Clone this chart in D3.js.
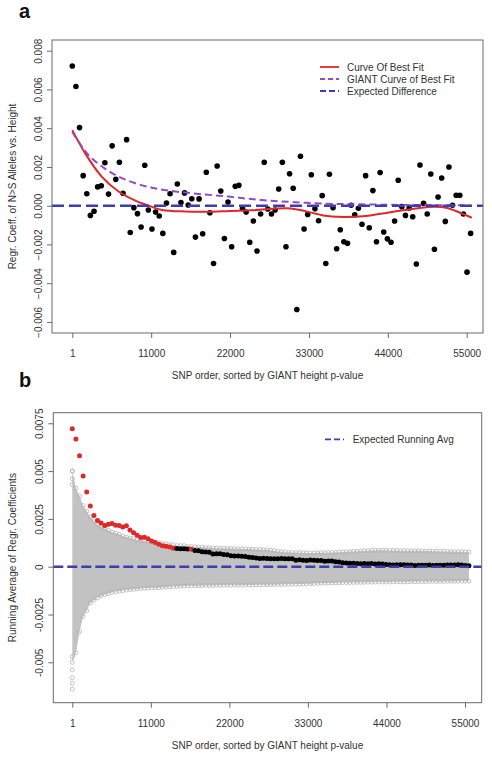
<!DOCTYPE html>
<html><head><meta charset="utf-8">
<script src="https://cdn.jsdelivr.net/npm/d3@7"></script>
<style>
body{margin:0;background:#fff}
svg{display:block}
text{font-family:"Liberation Sans",Arial,Helvetica,sans-serif}
</style>
</head><body>
<svg id="c" width="492" height="759"></svg>
<script>
// ---------- DATA ----------
// Panel a: regression coefficient of N>S alleles vs height, one value per SNP bin (sorted by GIANT p-value)
const coefA = [
 0.00721, 0.00615, 0.00403, 0.00155, 0.00062, -0.0005, -0.00029, 0.00097, 0.00103, 0.00222,
 0.0006, 0.00309, 0.00136, 0.00224, 0.00064, 0.00341, -0.00138, -0.0001, -0.00041, -0.0011,
 0.00209, -0.00022, -0.0012, -0.00033, -0.00053, -0.00143, 0.00014, 0.00062, -0.00241, 0.00112,
 0.00016, 0.00066, 0.00004, 0.00036, -0.00162, 0.00035, -0.00145, 0.00173, -0.00036, -0.00298,
 0.00205, 0.00076, -0.00169, 0.00019, -0.00212, 0.001, 0.00105, -0.00014, -0.00033, -0.00189,
 -0.00079, -0.00234, -0.00043, 0.00224, -0.00017, -0.00043, -0.00022, 0.00086, 0.00224, -0.00212,
 0.00165, 0.0009, -0.00536, 0.00255, -0.0012, -0.00045, 0.0016, -0.00016, -0.00078, 0.00052,
 -0.00298, 0.00162, -0.0001, -0.00222, -0.00124, -0.00186, -0.00194, 0.00002, -0.00047, -0.00013,
 -0.00096, 0.00155, -0.00114, 0.00078, -0.00186, 0.00171, -0.00136, -0.00171, -0.00189, -0.00079,
 0.00131, -0.00005, -0.0005, -0.00012, -0.00057, -0.00301, 0.0021, 0.00012, -0.00043, 0.00164,
 -0.00225, 0.00045, 0.00143, -0.00081, 0.002, 0.00002, 0.00054, 0.00054, -0.00043, -0.00343,
 -0.00143
];
const snpStep = 505;   // SNP-order spacing between successive bins
const snpOrder = coefA.map((_, i) => 1 + i * snpStep);

// Curve of best fit (red) and GIANT curve of best fit (purple)
const fitSnp = [1, 1800, 4100, 6500, 8800, 10650, 12500, 15750, 19000, 22000, 25000, 28000, 30500, 32500, 35000, 37700, 40500, 43000, 45700, 48000, 50500, 52300, 54000, 55700];
const fitVal = [0.0039, 0.0027, 0.0015, 0.00072, 0.00026, 0.0, -0.00022, -0.0003, -0.00031, -0.00027, -0.00024, -0.00016, -0.00014, -0.00028, -0.0005, -0.00058, -0.00055, -0.00042, -0.00026, -0.00014, -0.00006, -0.00012, -0.00035, -0.00062];
const giantSnp = [1, 2290, 4600, 6470, 8780, 11110, 13440, 16690, 21750, 26400, 31050, 35700, 40000, 46000, 55500];
const giantVal = [0.0038, 0.0026, 0.0019, 0.0015, 0.00116, 0.00093, 0.00078, 0.00064, 0.00047, 0.00029, 0.00018, 0.0001, 0.00007, 0.00004, 0.00002];

// Panel b: running average of regression coefficients
const runAvg = [
 0.00721, 0.00668, 0.0058, 0.00474, 0.00391, 0.00318, 0.00268, 0.00241, 0.00229, 0.00216,
 0.00222, 0.00226, 0.00217, 0.00215, 0.00208, 0.00214, 0.00192, 0.00178, 0.00165, 0.00153,
 0.00154, 0.00146, 0.00134, 0.00127, 0.00118, 0.0011, 0.00107, 0.00103, 0.00096, 0.00095,
 0.00094, 0.00094, 0.00092, 0.00091, 0.00085, 0.00084, 0.00078, 0.00077, 0.00075, 0.00067,
 0.00068, 0.00068, 0.00064, 0.00063, 0.00057, 0.00056, 0.00056, 0.00055, 0.00054, 0.0005,
 0.00048, 0.00045, 0.00043, 0.00044, 0.00043, 0.00042, 0.00041, 0.00042, 0.00043, 0.00041,
 0.00042, 0.00042, 0.00034, 0.00037, 0.00034, 0.00033, 0.00035, 0.00034, 0.00033, 0.00033,
 0.00028, 0.0003, 0.0003, 0.00026, 0.00024, 0.00021, 0.00019, 0.00018, 0.00018, 0.00017,
 0.00016, 0.00017, 0.00016, 0.00017, 0.00014, 0.00016, 0.00014, 0.00012, 0.0001, 0.00009,
 0.0001, 0.0001, 0.0001, 0.00009, 0.00009, 0.00006, 0.00008, 0.00008, 0.00007, 0.00009,
 0.00006, 0.00007, 0.00008, 0.00007, 0.00009, 0.00009, 0.00009, 0.0001, 0.00009, 0.00006,
 0.00005
];
// bins (1-based) whose running average is flagged (red)
const flaggedBins = [1,2,3,4,5,6,7,8,9,10,11,12,13,14,15,16,17,18,19,20,21,22,23,24,25,26,27,28,29,34];

// Permutation envelope (grey open circles): upper and lower edges per bin
const envUpper = [
 0.0050, 0.0041, 0.0037, 0.0032, 0.0029, 0.0026, 0.0024, 0.0022, 0.0021, 0.0020,
 0.0019, 0.0018, 0.00175, 0.0017, 0.0016, 0.00155, 0.0015, 0.00145, 0.0014, 0.0014,
 0.00135, 0.0013, 0.0013, 0.00125, 0.00125, 0.0012, 0.0012, 0.00115, 0.00115, 0.0011,
 0.0011, 0.0011, 0.00105, 0.00105, 0.00104, 0.00103, 0.00102, 0.001, 0.001, 0.00098,
 0.00097, 0.00096, 0.00096, 0.00095, 0.00095, 0.00094, 0.00094, 0.00093, 0.00093, 0.00092,
 0.00091, 0.0009, 0.0009, 0.00089, 0.00088, 0.00086, 0.00084, 0.0008, 0.00078, 0.00076,
 0.00075, 0.00074, 0.00074, 0.00073, 0.00073, 0.00072, 0.00072, 0.00072, 0.00073, 0.00073,
 0.00073, 0.00074, 0.00074, 0.00075, 0.00076, 0.00077, 0.00078, 0.00079, 0.0008, 0.00081,
 0.00082, 0.00083, 0.00084, 0.00085, 0.00086, 0.00086, 0.00086, 0.00086, 0.00085, 0.00085,
 0.00085, 0.00084, 0.00084, 0.00084, 0.00083, 0.00083, 0.00083, 0.00082, 0.00082, 0.00082,
 0.00081, 0.00081, 0.0008, 0.0008, 0.0008, 0.00079, 0.00079, 0.00078, 0.00078, 0.00077,
 0.00077
];
const envLower = [
 -0.0050, -0.0045, -0.0034, -0.0026, -0.0023, -0.0019, -0.00175, -0.00163, -0.00153, -0.00146,
 -0.0014, -0.00135, -0.0013, -0.00128, -0.00125, -0.00122, -0.0012, -0.00118, -0.00116, -0.00114,
 -0.00113, -0.00112, -0.0011, -0.0011, -0.0011, -0.00108, -0.00107, -0.00105, -0.00104, -0.00103,
 -0.00102, -0.00101, -0.001, -0.001, -0.001, -0.00099, -0.00099, -0.00098, -0.00098, -0.00098,
 -0.00097, -0.00097, -0.00097, -0.00096, -0.00096, -0.00096, -0.00096, -0.00096, -0.00096, -0.00096,
 -0.00096, -0.00095, -0.00095, -0.00095, -0.00094, -0.00094, -0.00094, -0.00093, -0.00093, -0.00092,
 -0.00092, -0.00091, -0.00091, -0.0009, -0.0009, -0.00089, -0.00089, -0.00088, -0.00087, -0.00086,
 -0.00086, -0.00085, -0.00085, -0.00084, -0.00084, -0.00083, -0.00083, -0.00083, -0.00082, -0.00082,
 -0.00082, -0.00081, -0.00081, -0.00081, -0.0008, -0.0008, -0.0008, -0.0008, -0.0008, -0.00079,
 -0.00079, -0.00079, -0.00079, -0.00079, -0.00078, -0.00078, -0.00078, -0.00078, -0.00078, -0.00077,
 -0.00077, -0.00077, -0.00077, -0.00077, -0.00076, -0.00076, -0.00076, -0.00076, -0.00075, -0.00075,
 -0.00075
];
const envFirstBinExtras = [0.0050, 0.0046, 0.0043, -0.0047, -0.0054, -0.0058, -0.0061, -0.0064];

const xTicks = [1, 11000, 22000, 33000, 44000, 55000];
const yTicksA = [-0.006, -0.004, -0.002, 0, 0.002, 0.004, 0.006, 0.008];
const yTicksB = [-0.005, -0.0025, 0, 0.0025, 0.005, 0.0075];
const yTickLabelsB = ["-0.005", "-0.0025", "0", "0.0025", "0.005", "0.0075"];
const legendA = ["Curve Of Best Fit", "GIANT Curve of Best Fit", "Expected Difference"];
const legendB = ["Expected Running Avg"];
const xTitle = "SNP order, sorted by GIANT height p-value";
const yTitleA = "Regr. Coeff. of N>S Alleles vs. Height";
const yTitleB = "Running Average of Regr. Coefficients";

// ---------- STYLE ----------
const RED = "#e02828", PURPLE = "#9448c4", BLUE = "#3c3cb4";
const AX = "#6a6a6a", TXT = "#333";

const svg = d3.select("#c");
svg.append("rect").attr("width", 492).attr("height", 759).attr("fill", "#fff");

function axes(box, x, y, yVals, yFmt) {
  const gx = svg.append("g").attr("transform", `translate(0,${box.b})`)
    .call(d3.axisBottom(x).tickValues(xTicks).tickFormat(d3.format("d")).tickSize(5).tickSizeOuter(0).tickPadding(12));
  gx.select(".domain").remove();
  const gy = svg.append("g").attr("transform", `translate(${box.l},0)`)
    .call(d3.axisLeft(y).tickValues(yVals).tickFormat(yFmt).tickSize(5).tickSizeOuter(0));
  gy.select(".domain").remove();
  gy.selectAll("text").attr("transform", "rotate(-90)").attr("x", 0).attr("y", -10.5).attr("dy", 0).attr("text-anchor", "middle");
  [gx, gy].forEach(g => {
    g.selectAll("line").attr("stroke", AX);
    g.selectAll("text").attr("fill", TXT).style("font-size", "10px").style("font-family", '"Liberation Sans",Arial,sans-serif');
  });
  svg.append("rect").attr("x", box.l).attr("y", box.t).attr("width", box.r - box.l).attr("height", box.b - box.t)
    .attr("fill", "none").attr("stroke", AX).attr("stroke-width", 1);
}

function titles(box, yTitle, xTitleY, letter, letterY) {
  svg.append("text").attr("x", (box.l + box.r) / 2).attr("y", xTitleY).attr("text-anchor", "middle")
    .attr("fill", TXT).style("font-size", "10px").text(xTitle);
  svg.append("text").attr("transform", `translate(16,${(box.t + box.b) / 2}) rotate(-90)`).attr("text-anchor", "middle")
    .attr("fill", TXT).style("font-size", "10px").text(yTitle);
  svg.append("text").attr("x", 19).attr("y", letterY).attr("fill", "#111")
    .style("font-size", "20px").style("font-weight", "bold").text(letter);
}

// ---------- PANEL A ----------
const boxA = {l: 52, r: 483, t: 40, b: 333};
const xA = d3.scaleLinear().domain([1, 55000]).range([72.3, 466.7]);
const yA = d3.scaleLinear().domain([0, 0.008]).range([205.7, 50.7]);

svg.append("g").selectAll("circle").data(coefA).join("circle")
  .attr("cx", (d, i) => xA(snpOrder[i])).attr("cy", d => yA(d)).attr("r", 2.8).attr("fill", "#000");

const lineA = d3.line().curve(d3.curveCatmullRom.alpha(0.5));
svg.append("path").attr("d", lineA(fitSnp.map((s, i) => [xA(s), yA(fitVal[i])])))
  .attr("fill", "none").attr("stroke", RED).attr("stroke-width", 2);
svg.append("path").attr("d", lineA(giantSnp.map((s, i) => [xA(s), yA(giantVal[i])])))
  .attr("fill", "none").attr("stroke", PURPLE).attr("stroke-width", 2).attr("stroke-dasharray", "7,4");
svg.append("line").attr("x1", boxA.l).attr("x2", boxA.r).attr("y1", yA(0)).attr("y2", yA(0))
  .attr("stroke", BLUE).attr("stroke-width", 2.4).attr("stroke-dasharray", "12,5");

axes(boxA, xA, yA, yTicksA, d3.format(".3f"));
titles(boxA, yTitleA, 379, "a", 18);

// legend a
const legStyles = [{c: RED, dash: null}, {c: PURPLE, dash: "5,3"}, {c: BLUE, dash: "6,3"}];
legendA.forEach((t, i) => {
  const yy = 67 + i * 12;
  svg.append("line").attr("x1", 320).attr("x2", 339).attr("y1", yy).attr("y2", yy)
    .attr("stroke", legStyles[i].c).attr("stroke-width", 1.8).attr("stroke-dasharray", legStyles[i].dash);
  svg.append("text").attr("x", 347).attr("y", yy + 3.6).attr("fill", TXT).style("font-size", "10px").text(t);
});

// ---------- PANEL B ----------
const boxB = {l: 53.3, r: 481.7, t: 412.7, b: 702.7};
const xB = d3.scaleLinear().domain([1, 55000]).range([72.3, 465]);
const yB = d3.scaleLinear().domain([0, 0.0075]).range([566.7, 423.3]);

const area = d3.area().x((d, i) => xB(snpOrder[i])).y0((d, i) => yB(envLower[i])).y1(d => yB(d));
svg.append("path").attr("d", area(envUpper)).attr("fill", "#c2c2c2");
const envG = svg.append("g").attr("fill", "none").attr("stroke", "#b4b4b4").attr("stroke-width", 0.8);
envG.selectAll("circle.u").data(envUpper).join("circle").attr("class", "u")
  .attr("cx", (d, i) => xB(snpOrder[i])).attr("cy", d => yB(d)).attr("r", 2);
envG.selectAll("circle.l").data(envLower).join("circle").attr("class", "l")
  .attr("cx", (d, i) => xB(snpOrder[i])).attr("cy", d => yB(d)).attr("r", 2);
envG.selectAll("circle.e").data(envFirstBinExtras).join("circle").attr("class", "e")
  .attr("cx", xB(snpOrder[0])).attr("cy", d => yB(d)).attr("r", 2);

svg.append("g").selectAll("circle").data(runAvg).join("circle")
  .attr("cx", (d, i) => xB(snpOrder[i])).attr("cy", d => yB(d)).attr("r", 2.5)
  .attr("fill", (d, i) => flaggedBins.includes(i + 1) ? RED : "#000");

svg.append("line").attr("x1", boxB.l).attr("x2", boxB.r).attr("y1", yB(0)).attr("y2", yB(0))
  .attr("stroke", BLUE).attr("stroke-width", 2.4).attr("stroke-dasharray", "10,4");

axes(boxB, xB, yB, yTicksB, (d, i) => yTickLabelsB[yTicksB.indexOf(d)]);
titles(boxB, yTitleB, 749, "b", 387);

legendB.forEach((t, i) => {
  const yy = 439.3 + i * 12;
  svg.append("line").attr("x1", 325).attr("x2", 344).attr("y1", yy).attr("y2", yy)
    .attr("stroke", BLUE).attr("stroke-width", 1.8).attr("stroke-dasharray", "6,3");
  svg.append("text").attr("x", 352.7).attr("y", yy + 3.6).attr("fill", TXT).style("font-size", "10px").text(t);
});
</script>
</body></html>
